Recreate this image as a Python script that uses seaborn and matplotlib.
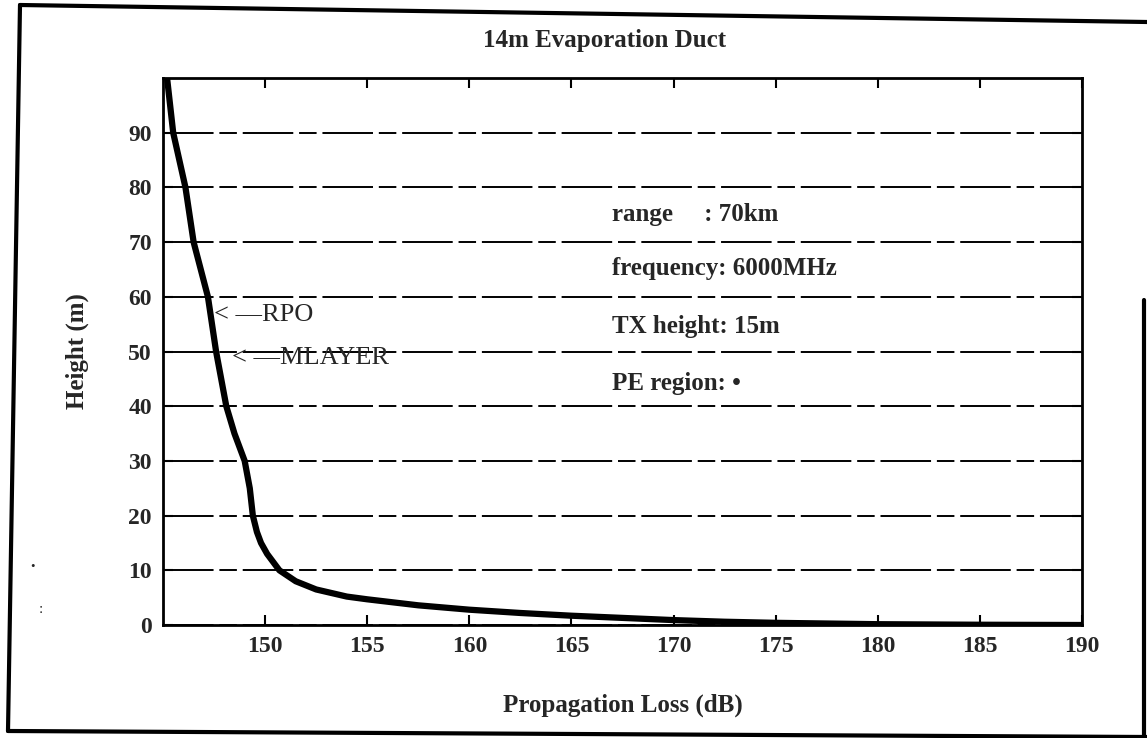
import seaborn as sns
import matplotlib.pyplot as plt
from matplotlib.lines import Line2D

# curve: height (m) vs propagation loss (dB)
loss = [145.2, 145.5, 146.1, 146.5, 147.2, 147.6, 148.1, 148.5, 149.0, 149.25,
        149.4, 149.6, 149.8, 150.1, 150.7, 151.5, 152.5, 154.0, 155.0, 157.5,
        160.0, 162.5, 165.0, 167.5, 170.0, 172.5, 175.0, 180.0, 185.0, 190.0]
height = [100, 90, 80, 70, 60, 50, 40, 35, 30, 25,
          20, 17, 15, 13, 10, 8, 6.5, 5.2, 4.7, 3.6,
          2.8, 2.2, 1.7, 1.3, 0.9, 0.6, 0.4, 0.15, 0.05, 0.0]

x_ticks = [150, 155, 160, 165, 170, 175, 180, 185, 190]
y_ticks = [0, 10, 20, 30, 40, 50, 60, 70, 80, 90]

info_lines = ["range     : 70km", "frequency: 6000MHz", "TX height: 15m", "PE region: \u2022"]
info_y = [73, 63, 52.5, 42]
marker_labels = ["< \u2014RPO", "< \u2014MLAYER"]
marker_pos = [(147.5, 56.7), (148.4, 48.9)]

sns.set_theme(style="white")
plt.rcParams['font.family'] = ['Liberation Serif', 'DejaVu Serif']

fig = plt.figure(figsize=(11.47, 7.38), dpi=100)
ax = fig.add_axes([0.1421, 0.1531, 0.8012, 0.7412])

sns.lineplot(x=loss, y=height, sort=False, estimator=None, color="black",
             linewidth=4.5, ax=ax)

ax.set_xlim(145, 190)
ax.set_ylim(0, 100)
ax.set_xticks(x_ticks)
ax.set_yticks(y_ticks)
ax.tick_params(direction="in", top=True, right=True, bottom=True, left=True,
               length=7, width=1.5, color="black", labelsize=17, pad=8)
for lab in ax.get_xticklabels() + ax.get_yticklabels():
    lab.set_fontweight("bold")

ax.grid(axis="y", color="black", linestyle=(0, (26, 3, 9, 3)), linewidth=1.4)
ax.grid(axis="x", visible=False)
for s in ax.spines.values():
    s.set_color("black")
    s.set_linewidth(2)

ax.set_title("14m Evaporation Duct", fontsize=18, fontweight="bold", pad=22, x=0.481)
ax.set_xlabel("Propagation Loss (dB)", fontsize=18, fontweight="bold", labelpad=26)
ax.set_ylabel("Height (m)", fontsize=18, fontweight="bold", labelpad=28)

for txt, yy in zip(info_lines, info_y):
    ax.text(167, yy, txt, fontsize=18, fontweight="bold", va="bottom", ha="left")

for txt, (xx, yy) in zip(marker_labels, marker_pos):
    ax.text(xx, yy, txt, fontsize=19, va="center", ha="left")

# outer frame of the scanned figure (slightly rotated)
frame = dict(color="black", linewidth=3, transform=fig.transFigure)
fig.add_artist(Line2D([20 / 1147, 1147 / 1147], [1 - 5 / 738, 1 - 22 / 738], **frame))
fig.add_artist(Line2D([20 / 1147, 8 / 1147], [1 - 5 / 738, 1 - 731 / 738], **frame))
fig.add_artist(Line2D([8 / 1147, 1147 / 1147], [1 - 731 / 738, 1 - 737 / 738], **frame))
fig.add_artist(Line2D([1144 / 1147, 1144 / 1147], [1 - 300 / 738, 0], **frame))

# specks from the scan
fig.text(0.026, 0.228, "\u2022", fontsize=9)
fig.text(0.034, 0.170, ":", fontsize=11)

fig.savefig("out.png", dpi=100)
